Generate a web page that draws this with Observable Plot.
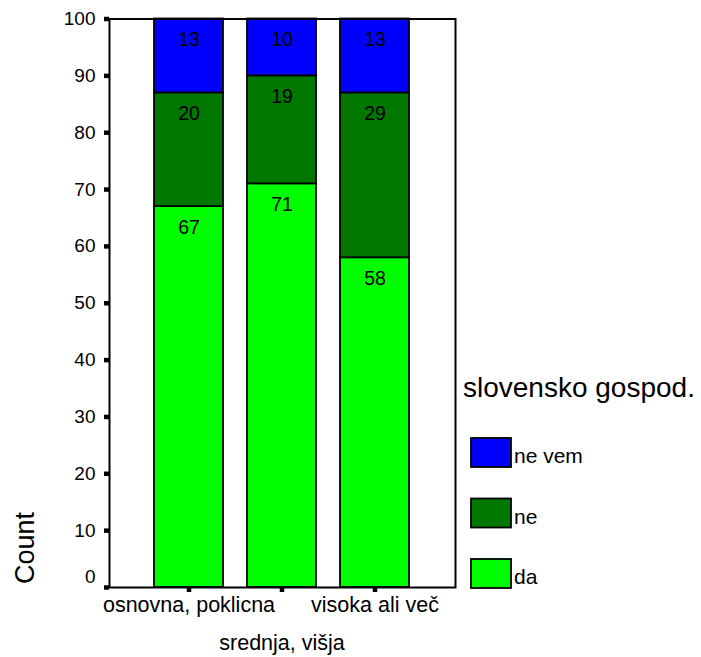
<!DOCTYPE html>
<html>
<head>
<meta charset="utf-8">
<script src="https://cdn.jsdelivr.net/npm/d3@7"></script>
<script src="https://cdn.jsdelivr.net/npm/@observablehq/plot@0.6"></script>
<style>
  html, body { margin: 0; padding: 0; background: white; }
  #chart { position: relative; width: 701px; height: 657px; }
</style>
</head>
<body>
<div id="chart"></div>
<script>
const categories = ["osnovna, poklicna", "srednja, višja", "visoka ali več"];
const seriesNames = ["da", "ne", "ne vem"];
const daValues = [67, 71, 58];
const neValues = [20, 19, 29];
const neVemValues = [13, 10, 13];
const yTicks = [0, 10, 20, 30, 40, 50, 60, 70, 80, 90, 100];
const seriesColors = ["#00ff00", "#007800", "#0000ff"];
const legendTitle = "slovensko gospod.";
const yLabel = "Count";

const seriesValues = [daValues, neValues, neVemValues];
const data = categories.flatMap((cat, i) =>
  seriesNames.map((s, j) => ({cat, series: s, value: seriesValues[j][i]}))
);

const FONT = "'Liberation Sans', Arial, Helvetica, sans-serif";

const plot = Plot.plot({
  width: 701,
  height: 657,
  marginLeft: 109,
  marginRight: 246,
  marginTop: 18.5,
  marginBottom: 70,
  style: {fontFamily: FONT, background: "white", color: "black"},
  x: {domain: categories, paddingInner: 0.255, paddingOuter: 0.468, axis: null},
  y: {domain: [0, 100], axis: null},
  color: {domain: seriesNames, range: seriesColors},
  marks: [
    Plot.barY(data, {x: "cat", y: "value", fill: "series", order: seriesNames, stroke: "black", strokeWidth: 1.8}),
    Plot.text(data, Plot.stackY2({
      x: "cat", y: "value", z: "series", order: seriesNames,
      text: d => String(d.value), dy: 21, fontSize: 19.5, fill: "black"
    })),
    Plot.frame({stroke: "black", strokeWidth: 2}),
    Plot.axisY({ticks: yTicks, tickSize: 5, strokeWidth: 4.5, tickFormat: () => "", label: null}),
    Plot.axisY({ticks: yTicks.filter(d => d > 0), tickSize: 0, tickPadding: 14, fontSize: 19, fill: "black", label: null}),
    Plot.axisY({ticks: yTicks.filter(d => d === 0), tickSize: 0, tickPadding: 14, fontSize: 19, dy: -11, fill: "black", label: null}),
    Plot.axisX({ticks: categories, tickSize: 5, strokeWidth: 4.5, tickFormat: () => "", label: null}),
    Plot.text([categories[0], categories[2]], {x: d => d, text: d => d, frameAnchor: "bottom", dy: 24, fontSize: 21.5, fill: "black"}),
    Plot.text([categories[1]], {x: d => d, text: d => d, frameAnchor: "bottom", dy: 62, fontSize: 21.5, fill: "black"})
  ]
});

const svg = d3.select(plot);
// y label
svg.append("text")
  .attr("transform", "translate(34,548) rotate(-90)")
  .attr("text-anchor", "middle")
  .attr("font-size", 27)
  .attr("font-family", FONT)
  .attr("fill", "black")
  .text(yLabel);

// legend
const lg = svg.append("g").attr("font-family", FONT).attr("text-anchor", "start");
lg.append("text")
  .attr("x", 463).attr("y", 397)
  .attr("font-size", 28)
  .attr("fill", "black")
  .text(legendTitle);
const legendOrder = seriesNames.slice().reverse();
legendOrder.forEach((s, k) => {
  const top = 438 + k * 60.5;
  lg.append("rect")
    .attr("x", 471).attr("y", top)
    .attr("width", 40).attr("height", 29)
    .attr("fill", seriesColors[seriesNames.indexOf(s)])
    .attr("stroke", "black").attr("stroke-width", 1.8);
  lg.append("text")
    .attr("x", 514).attr("y", top + 25)
    .attr("font-size", 21)
    .attr("fill", "black")
    .text(s);
});

document.getElementById("chart").appendChild(plot);
</script>
</body>
</html>
